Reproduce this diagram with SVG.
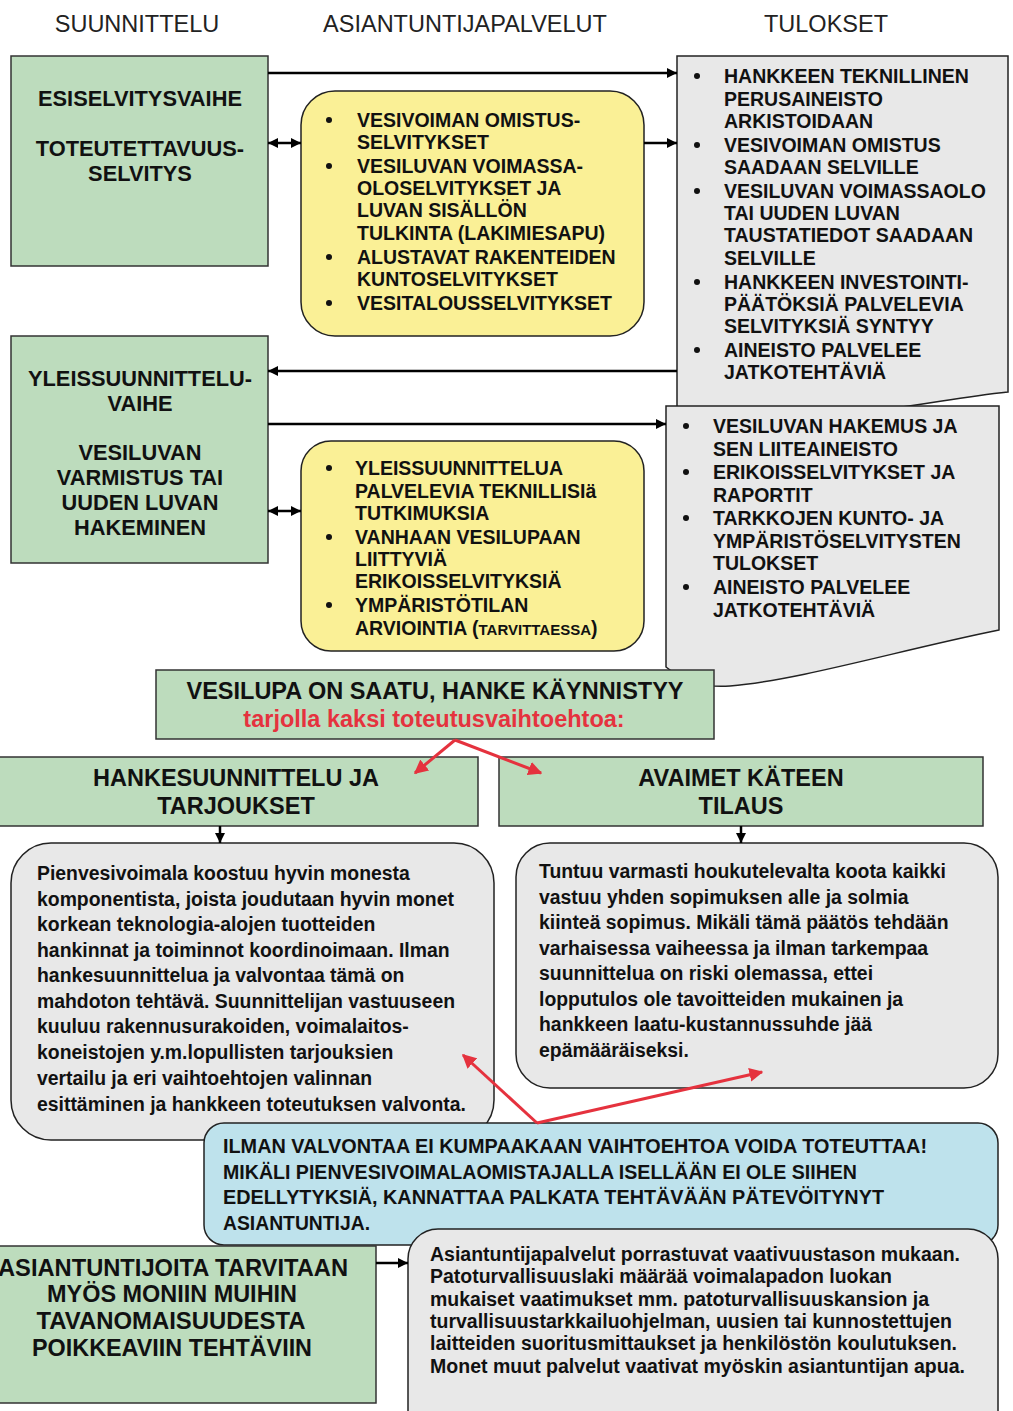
<svg xmlns="http://www.w3.org/2000/svg" width="1013" height="1411" viewBox="0 0 1013 1411">
<defs>
<marker id="ah" viewBox="0 0 10 10" refX="10" refY="5" markerWidth="10" markerHeight="10" markerUnits="userSpaceOnUse" orient="auto"><path d="M0,0 L10,5 L0,10 Z" fill="#000"/></marker>
<marker id="ahs" viewBox="0 0 10 10" refX="0" refY="5" markerWidth="10" markerHeight="10" markerUnits="userSpaceOnUse" orient="auto"><path d="M10,0 L0,5 L10,10 Z" fill="#000"/></marker>
<marker id="ar" viewBox="0 0 10 10" refX="9" refY="5" markerWidth="14" markerHeight="14" markerUnits="userSpaceOnUse" orient="auto"><path d="M0,0 L10,5 L0,10 Z" fill="#e5323e"/></marker>
<style>
text{font-family:"Liberation Sans",Arial,sans-serif;fill:#111}
.hd{font-size:23.5px;fill:#222}
.g{fill:#bddcbd;stroke:#333;stroke-width:1.5}
.y{fill:#faf096;stroke:#222;stroke-width:1.5}
.gr{fill:#e8e8e8;stroke:#222;stroke-width:1.5}
.bl{fill:#bee2ec;stroke:#222;stroke-width:1.5}
.t1{font-size:21.8px;font-weight:bold;text-anchor:middle}
.t2{font-size:23.5px;font-weight:bold;text-anchor:middle}
.bu{font-size:19.5px;font-weight:bold}
.p{font-size:19.4px;font-weight:bold}
.red{fill:#e5323e}
.dot{fill:#111}
.c{fill:none;stroke:#000;stroke-width:2.5}
.cr{fill:none;stroke:#e5323e;stroke-width:3}
</style>
</defs>

<g id="headers">
<text class="hd" x="137" y="32" text-anchor="middle">SUUNNITTELU</text>
<text class="hd" x="465" y="32" text-anchor="middle">ASIANTUNTIJAPALVELUT</text>
<text class="hd" x="826" y="32" text-anchor="middle">TULOKSET</text>
</g>

<g id="esiselvitys">
<rect class="g" x="11" y="56" width="257" height="210"/>
<text class="t1" x="140" y="106">ESISELVITYSVAIHE</text>
<text class="t1" x="140" y="156">TOTEUTETTAVUUS-</text>
<text class="t1" x="140" y="181">SELVITYS</text>
</g>

<g id="palvelut1">
<rect class="y" x="301" y="91" width="343" height="245" rx="34"/>
<circle class="dot" cx="329" cy="120" r="3"/>
<circle class="dot" cx="329" cy="166" r="3"/>
<circle class="dot" cx="329" cy="257" r="3"/>
<circle class="dot" cx="329" cy="303" r="3"/>
<text class="bu" x="357" y="127">VESIVOIMAN OMISTUS-</text>
<text class="bu" x="357" y="149">SELVITYKSET</text>
<text class="bu" x="357" y="173">VESILUVAN VOIMASSA-</text>
<text class="bu" x="357" y="195">OLOSELVITYKSET JA</text>
<text class="bu" x="357" y="217">LUVAN SISÄLLÖN</text>
<text class="bu" x="357" y="240">TULKINTA (LAKIMIESAPU)</text>
<text class="bu" x="357" y="264">ALUSTAVAT RAKENTEIDEN</text>
<text class="bu" x="357" y="286">KUNTOSELVITYKSET</text>
<text class="bu" x="357" y="310">VESITALOUSSELVITYKSET</text>
</g>

<g id="tulokset1">
<path class="gr" d="M677,56 H1008 V392 C960,397 930,404 880,410 C800,420 740,440 700,430 L677,425 Z"/>
<circle class="dot" cx="697" cy="76" r="3"/>
<circle class="dot" cx="697" cy="145" r="3"/>
<circle class="dot" cx="697" cy="191" r="3"/>
<circle class="dot" cx="697" cy="282" r="3"/>
<circle class="dot" cx="697" cy="350" r="3"/>
<text class="bu" x="724" y="83">HANKKEEN TEKNILLINEN</text>
<text class="bu" x="724" y="106">PERUSAINEISTO</text>
<text class="bu" x="724" y="128">ARKISTOIDAAN</text>
<text class="bu" x="724" y="152">VESIVOIMAN OMISTUS</text>
<text class="bu" x="724" y="174">SAADAAN SELVILLE</text>
<text class="bu" x="724" y="198">VESILUVAN VOIMASSAOLO</text>
<text class="bu" x="724" y="220">TAI UUDEN LUVAN</text>
<text class="bu" x="724" y="242">TAUSTATIEDOT SAADAAN</text>
<text class="bu" x="724" y="265">SELVILLE</text>
<text class="bu" x="724" y="289">HANKKEEN INVESTOINTI-</text>
<text class="bu" x="724" y="311">PÄÄTÖKSIÄ PALVELEVIA</text>
<text class="bu" x="724" y="333">SELVITYKSIÄ SYNTYY</text>
<text class="bu" x="724" y="357">AINEISTO PALVELEE</text>
<text class="bu" x="724" y="379">JATKOTEHTÄVIÄ</text>
</g>

<g id="yleissuunnittelu">
<rect class="g" x="11" y="336" width="257" height="227"/>
<text class="t1" x="140" y="386">YLEISSUUNNITTELU-</text>
<text class="t1" x="140" y="411">VAIHE</text>
<text class="t1" x="140" y="460">VESILUVAN</text>
<text class="t1" x="140" y="485">VARMISTUS TAI</text>
<text class="t1" x="140" y="510">UUDEN LUVAN</text>
<text class="t1" x="140" y="535">HAKEMINEN</text>
</g>

<g id="palvelut2">
<rect class="y" x="301" y="441" width="343" height="210" rx="30"/>
<circle class="dot" cx="329" cy="468" r="3"/>
<circle class="dot" cx="329" cy="537" r="3"/>
<circle class="dot" cx="329" cy="605" r="3"/>
<text class="bu" x="355" y="475">YLEISSUUNNITTELUA</text>
<text class="bu" x="355" y="498">PALVELEVIA TEKNILLISIä</text>
<text class="bu" x="355" y="520">TUTKIMUKSIA</text>
<text class="bu" x="355" y="544">VANHAAN VESILUPAAN</text>
<text class="bu" x="355" y="566">LIITTYVIÄ</text>
<text class="bu" x="355" y="588">ERIKOISSELVITYKSIÄ</text>
<text class="bu" x="355" y="612">YMPÄRISTÖTILAN</text>
<text class="bu" x="355" y="635">ARVIOINTIA (<tspan font-size="15px">TARVITTAESSA</tspan>)</text>
</g>

<g id="tulokset2">
<path class="gr" d="M666,406 H999 V630 C900,650 800,680 730,686 C700,688 682,680 666,667 Z"/>
<circle class="dot" cx="686" cy="426" r="3"/>
<circle class="dot" cx="686" cy="472" r="3"/>
<circle class="dot" cx="686" cy="518" r="3"/>
<circle class="dot" cx="686" cy="587" r="3"/>
<text class="bu" x="713" y="433">VESILUVAN HAKEMUS JA</text>
<text class="bu" x="713" y="456">SEN LIITEAINEISTO</text>
<text class="bu" x="713" y="479">ERIKOISSELVITYKSET JA</text>
<text class="bu" x="713" y="502">RAPORTIT</text>
<text class="bu" x="713" y="525">TARKKOJEN KUNTO- JA</text>
<text class="bu" x="713" y="548">YMPÄRISTÖSELVITYSTEN</text>
<text class="bu" x="713" y="570">TULOKSET</text>
<text class="bu" x="713" y="594">AINEISTO PALVELEE</text>
<text class="bu" x="713" y="617">JATKOTEHTÄVIÄ</text>
</g>

<g id="vesilupa">
<rect class="g" x="156" y="670" width="558" height="69"/>
<text class="t2" x="435" y="699">VESILUPA ON SAATU, HANKE KÄYNNISTYY</text>
<text class="t2 red" x="434" y="727">tarjolla kaksi toteutusvaihtoehtoa:</text>
</g>

<g id="hankesuunnittelu">
<rect class="g" x="-2" y="757" width="480" height="69"/>
<text class="t2" x="236" y="786">HANKESUUNNITTELU JA</text>
<text class="t2" x="236" y="814">TARJOUKSET</text>
</g>

<g id="avaimet">
<rect class="g" x="499" y="757" width="484" height="69"/>
<text class="t2" x="741" y="786">AVAIMET KÄTEEN</text>
<text class="t2" x="741" y="814">TILAUS</text>
</g>

<g id="kuvaus-hanke">
<rect class="gr" x="11" y="843" width="483" height="297" rx="40"/>
<text class="p" x="37" y="880">Pienvesivoimala koostuu hyvin monesta</text>
<text class="p" x="37" y="906">komponentista, joista joudutaan hyvin monet</text>
<text class="p" x="37" y="931">korkean teknologia-alojen tuotteiden</text>
<text class="p" x="37" y="957">hankinnat ja toiminnot koordinoimaan. Ilman</text>
<text class="p" x="37" y="982">hankesuunnittelua ja valvontaa tämä on</text>
<text class="p" x="37" y="1008">mahdoton tehtävä. Suunnittelijan vastuuseen</text>
<text class="p" x="37" y="1033">kuuluu rakennusurakoiden, voimalaitos-</text>
<text class="p" x="37" y="1059">koneistojen y.m.lopullisten tarjouksien</text>
<text class="p" x="37" y="1085">vertailu ja eri vaihtoehtojen valinnan</text>
<text class="p" x="37" y="1111">esittäminen ja hankkeen toteutuksen valvonta.</text>
</g>

<g id="kuvaus-avaimet">
<rect class="gr" x="516" y="843" width="482" height="245" rx="34"/>
<text class="p" x="539" y="878">Tuntuu varmasti houkutelevalta koota kaikki</text>
<text class="p" x="539" y="904">vastuu yhden sopimuksen alle ja solmia</text>
<text class="p" x="539" y="929">kiinteä sopimus. Mikäli tämä päätös tehdään</text>
<text class="p" x="539" y="955">varhaisessa vaiheessa ja ilman tarkempaa</text>
<text class="p" x="539" y="980">suunnittelua on riski olemassa, ettei</text>
<text class="p" x="539" y="1006">lopputulos ole tavoitteiden mukainen ja</text>
<text class="p" x="539" y="1031">hankkeen laatu-kustannussuhde jää</text>
<text class="p" x="539" y="1057">epämääräiseksi.</text>
</g>

<g id="valvonta">
<rect class="bl" x="204" y="1123" width="794" height="122" rx="20"/>
<text class="p" x="223" y="1153" textLength="704" lengthAdjust="spacingAndGlyphs">ILMAN VALVONTAA EI KUMPAAKAAN VAIHTOEHTOA VOIDA TOTEUTTAA!</text>
<text class="p" x="223" y="1179" textLength="634" lengthAdjust="spacingAndGlyphs">MIKÄLI PIENVESIVOIMALAOMISTAJALLA ISELLÄÄN EI OLE SIIHEN</text>
<text class="p" x="223" y="1204" textLength="661" lengthAdjust="spacingAndGlyphs">EDELLYTYKSIÄ, KANNATTAA PALKATA TEHTÄVÄÄN PÄTEVÖITYNYT</text>
<text class="p" x="223" y="1230" textLength="147" lengthAdjust="spacingAndGlyphs">ASIANTUNTIJA.</text>
</g>

<g id="muut-tehtavat">
<rect class="g" x="-40" y="1246" width="416" height="157"/>
<text class="t2" x="173" y="1276" textLength="350" lengthAdjust="spacingAndGlyphs">ASIANTUNTIJOITA TARVITAAN</text>
<text class="t2" x="172" y="1302" textLength="250" lengthAdjust="spacingAndGlyphs">MYÖS MONIIN MUIHIN</text>
<text class="t2" x="171" y="1329" textLength="269" lengthAdjust="spacingAndGlyphs">TAVANOMAISUUDESTA</text>
<text class="t2" x="172" y="1356" textLength="280" lengthAdjust="spacingAndGlyphs">POIKKEAVIIN TEHTÄVIIN</text>
</g>

<g id="asiantuntijapalvelut">
<rect class="gr" x="408" y="1229" width="590" height="220" rx="30"/>
<text class="p" x="430" y="1261" textLength="530" lengthAdjust="spacingAndGlyphs">Asiantuntijapalvelut porrastuvat vaativuustason mukaan.</text>
<text class="p" x="430" y="1283" textLength="462" lengthAdjust="spacingAndGlyphs">Patoturvallisuuslaki määrää voimalapadon luokan</text>
<text class="p" x="430" y="1306" textLength="499" lengthAdjust="spacingAndGlyphs">mukaiset vaatimukset mm. patoturvallisuuskansion ja</text>
<text class="p" x="430" y="1328" textLength="522" lengthAdjust="spacingAndGlyphs">turvallisuustarkkailuohjelman, uusien tai kunnostettujen</text>
<text class="p" x="430" y="1350" textLength="527" lengthAdjust="spacingAndGlyphs">laitteiden suoritusmittaukset ja henkilöstön koulutuksen.</text>
<text class="p" x="430" y="1373" textLength="535" lengthAdjust="spacingAndGlyphs">Monet muut palvelut vaativat myöskin asiantuntijan apua.</text>
</g>

<g id="connectors">
<path class="c" d="M268,73 H677" marker-end="url(#ah)"/>
<path class="c" d="M644,143 H677" marker-end="url(#ah)"/>
<path class="c" d="M268,143 H301" marker-start="url(#ahs)" marker-end="url(#ah)"/>
<path class="c" d="M677,371 H268" marker-end="url(#ah)"/>
<path class="c" d="M268,424 H666" marker-end="url(#ah)"/>
<path class="c" d="M268,511 H301" marker-start="url(#ahs)" marker-end="url(#ah)"/>
<path class="c" d="M220,826 V843" marker-end="url(#ah)"/>
<path class="c" d="M741,826 V843" marker-end="url(#ah)"/>
<path class="c" d="M376,1263 H408" marker-end="url(#ah)"/>
<path class="cr" d="M455,740 L415,773" marker-end="url(#ar)"/>
<path class="cr" d="M455,740 L541,773" marker-end="url(#ar)"/>
<path class="cr" d="M537,1123 L463,1055" marker-end="url(#ar)"/>
<path class="cr" d="M537,1123 L762,1072" marker-end="url(#ar)"/>
</g>
</svg>
